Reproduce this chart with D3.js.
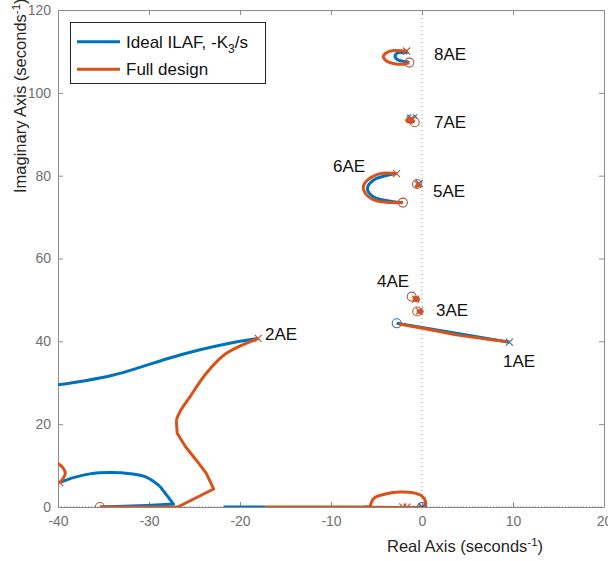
<!DOCTYPE html>
<html><head><meta charset="utf-8">
<script src="https://cdn.jsdelivr.net/npm/d3@7"></script>
<style>body{margin:0;background:#fff}svg{display:block;font-family:"Liberation Sans",Arial,sans-serif}</style>
</head><body><svg id="c" width="608" height="561"></svg>
<script>
// ---- data ----
const xTicks = [-40, -30, -20, -10, 0, 10, 20];
const yTicks = [0, 20, 40, 60, 80, 100, 120];
const seriesNames = ["Ideal ILAF, -K", "Full design"];

// Ideal ILAF branches (real, imag)
const ideal2AE = [[-40, 29.5], [-37, 30.5], [-34, 31.8], [-31, 33.7], [-28, 35.8], [-24.5, 37.9], [-21, 39.6], [-18, 40.7]];
const idealLow = [[-39.8, 5.9], [-38.3, 7.1], [-36.5, 8.0], [-34.3, 8.3], [-32.1, 8.05], [-30.3, 7.2], [-28.8, 5.0]];
const idealLowTail = [[-28.8, 5.0], [-27.3, 0.7], [-30.2, 0.36], [-35.4, 0]];
const idealReal = [[-21.8, 0], [-17.2, 0]];
const idealReal2 = [[-6.4, 0], [-5.6, 0]];
const ideal1AE = [[-2.78, 44.35], [9.6, 39.8]];
const ideal6AE = [[-2.8, 80.5], [-3.15, 80.4], [-5.35, 78.9], [-6.0, 76.9], [-5.35, 74.9], [-3.15, 73.7], [-2.1, 73.5]];
const ideal8AE = [[-1.7, 110.1], [-1.7, 109.7], [-2.6, 109.7], [-2.97, 108.9], [-2.6, 107.9], [-1.7, 107.5], [-1.4, 107.3]];

// Full design branches
const full2AE = [[-18.0, 40.7], [-21.5, 37.1], [-23.7, 32.3], [-25.5, 26.6], [-26.6, 23.0], [-27.0, 21.0]];
const full2AETail = [[-27.0, 21.0], [-26.9, 17.8], [-26.0, 14.6], [-24.8, 11.3], [-23.7, 8.1], [-22.9, 4.35], [-26.85, 0], [-35.4, 0]];
const fullLeft = [[-40.6, 11.0], [-40, 10.5], [-39.4, 9.3], [-39.2, 8.1], [-39.5, 6.7], [-39.8, 5.9]];
const fullReal = [[-17.2, 0], [-5.7, 0]];
const fullArc = [[-5.7, 0], [-5.3, 2.1], [-3.9, 3.2], [-2.4, 3.6], [-1.0, 3.45], [-0.03, 2.7], [0.4, 1.3], [0.3, 0.2], [0, 0], [-5.7, 0]];
const full1AE = [[-2.5, 44.2], [0.5, 43.0], [4.0, 41.5], [9.4, 39.9]];
const full3AE = [[-0.2, 47.6], [-0.45, 47.2], [-0.2, 46.9], [0.05, 47.2], [-0.2, 47.6]];
const full4AE = [[-0.9, 50.7], [-0.8, 50.0], [-0.45, 49.8], [-0.4, 50.3], [-0.9, 50.7]];
const full5AE = [[-0.6, 78.2], [-0.35, 77.7], [-0.5, 77.4], [-0.7, 77.8]];
const full6AE = [[-2.8, 80.5], [-4.6, 80.5], [-5.9, 79.1], [-6.45, 77.3], [-6.07, 75.3], [-4.98, 73.9], [-3.52, 73.5], [-2.1, 73.5]];
const full7AE = [[-1.3, 93.9], [-1.7, 93.4], [-1.3, 92.9], [-0.9, 93.1], [-1.3, 93.9]];
const full8AE = [[-1.7, 110.1], [-3.15, 110.2], [-3.9, 109.7], [-4.25, 108.7], [-3.9, 107.7], [-3.15, 107.1], [-2.05, 106.9], [-1.4, 107.3]];

const idealPoles = [[9.6, 39.8], [-1.4, 94.3], [-0.75, 94.3], [-0.3, 78.1], [0, 0]];
const idealZeros = [[-2.78, 44.35], [0, 0]];
const fullPoles = [[-18.0, 40.7], [-39.8, 5.9], [-1.7, 110.1], [-2.8, 80.5], [-1.3, 93.6], [-0.45, 77.9], [-0.7, 50.2], [-0.3, 47.3], [-2.1, 0], [-1.65, 0]];
const fullZeros = [[-1.4, 107.3], [-0.8, 92.9], [-2.1, 73.5], [-0.55, 78.0], [-1.13, 50.8], [-0.52, 47.2], [-35.4, 0], [0, 0]];

const modeNames = ["1AE", "2AE", "3AE", "4AE", "5AE", "6AE", "7AE", "8AE"];
const modeRe = [8.9, -17.25, 1.54, -4.95, 1.21, -9.78, 1.32, 1.32];
const modeIm = [33.8, 40.3, 46.1, 53.1, 74.8, 80.9, 91.5, 107.9];

// ---- drawing ----
const m = {l: 58, r: 604, t: 10, b: 507};
const x = d3.scaleLinear().domain([-40, 20]).range([m.l, m.r]);
const y = d3.scaleLinear().domain([0, 120]).range([m.b, m.t]);
const BLUE = "#0072BD", ORANGE = "#D95319";
const svg = d3.select("#c");

svg.append("defs").append("clipPath").attr("id", "clip")
  .append("rect").attr("x", m.l).attr("y", m.t).attr("width", m.r - m.l).attr("height", m.b - m.t);

// grid line at real = 0
svg.append("line").attr("x1", x(0)).attr("x2", x(0)).attr("y1", m.t).attr("y2", m.b)
  .attr("stroke", "#9a9a9a").attr("stroke-width", 1).attr("stroke-dasharray", "1,3");

// axes
const tickCol = "#6f6f6f";
const gx = svg.append("g").attr("transform", `translate(0,${m.b})`)
  .call(d3.axisBottom(x).tickValues(xTicks).tickSize(-5).tickPadding(9).tickSizeOuter(0));
const gxt = svg.append("g").attr("transform", `translate(0,${m.t})`)
  .call(d3.axisTop(x).tickValues(xTicks).tickSize(-5).tickFormat("").tickSizeOuter(0));
const gy = svg.append("g").attr("transform", `translate(${m.l},0)`)
  .call(d3.axisLeft(y).tickValues(yTicks).tickSize(-5).tickPadding(7).tickSizeOuter(0));
const gyr = svg.append("g").attr("transform", `translate(${m.r},0)`)
  .call(d3.axisRight(y).tickValues(yTicks).tickSize(-5).tickFormat("").tickSizeOuter(0));
[gx, gxt, gy, gyr].forEach(g => {
  g.select(".domain").attr("stroke", "#8c8c8c");
  g.selectAll(".tick line").attr("stroke", "#8c8c8c");
  g.selectAll("text").attr("fill", tickCol).attr("font-size", 14).attr("font-family", "Liberation Sans, Arial, sans-serif");
});
gx.selectAll("text").text(d => d < 0 ? "-" + Math.abs(d) : d);

// dotted real axis overlay
svg.append("line").attr("x1", m.l).attr("x2", m.r).attr("y1", y(0)).attr("y2", y(0))
  .attr("stroke", "#777").attr("stroke-width", 1).attr("stroke-dasharray", "1,2");

const plot = svg.append("g").attr("clip-path", "url(#clip)");
const lineStraight = d3.line().x(d => x(d[0])).y(d => y(d[1]));
const lineSmooth = d3.line().x(d => x(d[0])).y(d => y(d[1])).curve(d3.curveCatmullRom.alpha(0.5));
function drawLines(list, col, gen) {
  list.forEach(p => plot.append("path").attr("d", gen(p)).attr("fill", "none")
    .attr("stroke", col).attr("stroke-width", 3).attr("stroke-linejoin", "round"));
}
function drawX(list, col, s) {
  list.forEach(p => {
    const cx = x(p[0]), cy = y(p[1]);
    plot.append("path").attr("d", `M${cx - s},${cy - s}L${cx + s},${cy + s}M${cx - s},${cy + s}L${cx + s},${cy - s}`)
      .attr("stroke", col).attr("stroke-width", 1.2).attr("fill", "none");
  });
}
function drawO(list, col) {
  list.forEach(p => plot.append("circle").attr("cx", x(p[0])).attr("cy", y(p[1])).attr("r", 4.5)
    .attr("fill", "none").attr("stroke", col).attr("stroke-width", 1.1));
}
drawLines([ideal2AE, idealLow, ideal6AE, ideal8AE], BLUE, lineSmooth);
drawLines([idealLowTail, idealReal, idealReal2, ideal1AE], BLUE, lineStraight);
drawX(idealPoles.slice(0, 1).concat(idealPoles.slice(3)), "#3d6fa8", 3.5);
drawX(idealPoles.slice(1, 3), "#3d6fa8", 2);
drawO(idealZeros, "#3d6fa8");
drawLines([full2AE, fullLeft, fullArc, full1AE, full3AE, full4AE, full5AE, full6AE, full7AE, full8AE], ORANGE, lineSmooth);
drawLines([full2AETail, fullReal], ORANGE, lineStraight);
drawX(fullPoles, "#c0583a", 3.5);
drawO(fullZeros, "#b9553a");
drawX([[0, 0]], "#2a6db5", 3.5);

// mode labels
modeNames.forEach((n, i) => svg.append("text").attr("x", x(modeRe[i])).attr("y", y(modeIm[i]))
  .attr("font-size", 17).attr("fill", "#111").text(n));

// axis labels
const xl = svg.append("text").attr("x", 387).attr("y", 552).attr("font-size", 16.5).attr("fill", "#262626");
xl.append("tspan").text("Real Axis (seconds");
xl.append("tspan").attr("dy", -6).attr("font-size", 11.5).text("-1");
xl.append("tspan").attr("dy", 6).text(")");

const yl = svg.append("text").attr("transform", "translate(26,193) rotate(-90)").attr("font-size", 16.5).attr("fill", "#262626");
yl.append("tspan").text("Imaginary Axis (seconds");
yl.append("tspan").attr("dy", -6).attr("font-size", 11.5).text("-1");
yl.append("tspan").attr("dy", 6).text(")");

// legend
const lg = svg.append("g");
lg.append("rect").attr("x", 70.5).attr("y", 22.5).attr("width", 195).attr("height", 61)
  .attr("fill", "#fff").attr("stroke", "#262626").attr("stroke-width", 1);
const legCols = [BLUE, ORANGE];
seriesNames.forEach((n, i) => {
  const ly = 41.7 + i * 27.6;
  lg.append("line").attr("x1", 77).attr("x2", 120).attr("y1", ly).attr("y2", ly).attr("stroke", legCols[i]).attr("stroke-width", 3);
  const t = lg.append("text").attr("x", 126).attr("y", ly + 6).attr("font-size", 17).attr("fill", "#111");
  t.append("tspan").text(n);
  if (i === 0) {
    t.append("tspan").attr("dy", 5).attr("font-size", 12).text("3");
    t.append("tspan").attr("dy", -5).text("/s");
  }
});
</script></body></html>
